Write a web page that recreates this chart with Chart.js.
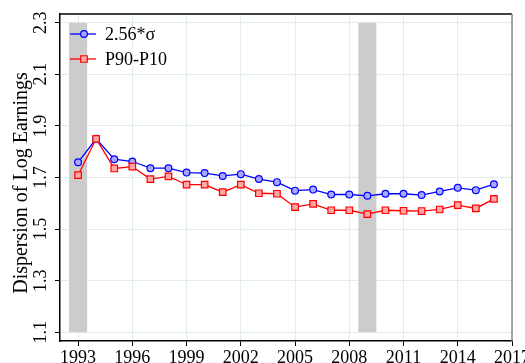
<!DOCTYPE html>
<html>
<head>
<meta charset="utf-8">
<script src="https://cdn.jsdelivr.net/npm/chart.js@4.4.0/dist/chart.umd.min.js"></script>
<style>
  html, body { margin: 0; padding: 0; background: #fff; }
  #wrap { width: 525px; height: 363px; }
</style>
</head>
<body>
<div id="wrap"><canvas id="chart"></canvas></div>
<script>
// ==================== DATA ====================
const years = [1993, 1994, 1995, 1996, 1997, 1998, 1999, 2000, 2001, 2002, 2003, 2004,
               2005, 2006, 2007, 2008, 2009, 2010, 2011, 2012, 2013, 2014, 2015, 2016];
const sigmaScaled = [1.759, 1.850, 1.771, 1.762, 1.736, 1.736, 1.719, 1.717, 1.706, 1.713, 1.694, 1.682,
                     1.649, 1.653, 1.634, 1.634, 1.629, 1.637, 1.637, 1.632, 1.646, 1.660, 1.651, 1.674];
const p90p10 = [1.709, 1.850, 1.735, 1.742, 1.694, 1.704, 1.672, 1.672, 1.643, 1.672, 1.639, 1.637,
                1.585, 1.598, 1.573, 1.573, 1.558, 1.573, 1.571, 1.570, 1.576, 1.593, 1.580, 1.617];
const xTicks = [1993, 1996, 1999, 2002, 2005, 2008, 2011, 2014, 2017];
const yTicks = [1.1, 1.3, 1.5, 1.7, 1.9, 2.1, 2.3];
const recessions = [[1992.5, 1993.5], [2008.5, 2009.5]];
const recessionSpan = [1.1, 2.3];
const yTitle = 'Dispersion of Log Earnings';

const SERIF = "'Liberation Serif', 'Times New Roman', serif";

// shaded recession bands, plot frame, rotated y labels and the inset legend
const decorations = {
  id: 'decorations',
  beforeDatasetsDraw(chart) {
    const { ctx, scales: { x, y } } = chart;
    ctx.save();
    ctx.fillStyle = '#cccccc';
    const top = y.getPixelForValue(recessionSpan[1]);
    const bottom = y.getPixelForValue(recessionSpan[0]);
    recessions.forEach(([from, to]) => {
      const x0 = x.getPixelForValue(from);
      const x1 = x.getPixelForValue(to);
      ctx.fillRect(x0, top, x1 - x0, bottom - top);
    });
    ctx.restore();
  },
  afterDraw(chart) {
    const { ctx, chartArea: area, scales: { y } } = chart;
    ctx.save();

    // top and right edges of the frame
    ctx.lineWidth = 1.5;
    ctx.strokeStyle = '#000';
    ctx.beginPath();
    ctx.moveTo(area.left, area.top);
    ctx.lineTo(area.right, area.top);
    ctx.stroke();
    ctx.strokeStyle = '#8a8a8a';
    ctx.beginPath();
    ctx.moveTo(area.right, area.top);
    ctx.lineTo(area.right, area.bottom);
    ctx.stroke();

    // vertical tick labels on the y axis
    ctx.fillStyle = '#000';
    ctx.font = `18px ${SERIF}`;
    ctx.textAlign = 'center';
    ctx.textBaseline = 'middle';
    yTicks.forEach(v => {
      ctx.save();
      ctx.translate(41, y.getPixelForValue(v));
      ctx.rotate(-Math.PI / 2);
      ctx.fillText(v.toFixed(1), 0, 0);
      ctx.restore();
    });

    // y axis title
    ctx.save();
    ctx.font = `20px ${SERIF}`;
    ctx.translate(22, 183);
    ctx.rotate(-Math.PI / 2);
    ctx.fillText(yTitle, 0, 0);
    ctx.restore();

    // legend in the upper-left corner of the plot
    const rows = [chart.data.datasets[0], chart.data.datasets[1]];
    rows.forEach((ds, i) => {
      const cy = 34 + i * 25;
      ctx.strokeStyle = ds.borderColor;
      ctx.lineWidth = ds.borderWidth;
      ctx.beginPath();
      ctx.moveTo(70, cy);
      ctx.lineTo(96, cy);
      ctx.stroke();
      ctx.fillStyle = ds.pointBackgroundColor;
      ctx.strokeStyle = ds.borderColor;
      ctx.lineWidth = ds.pointBorderWidth;
      Chart.helpers.drawPoint(ctx, {
        pointStyle: ds.pointStyle, radius: ds.pointRadius, rotation: 0, borderWidth: ds.pointBorderWidth
      }, 84, cy);
      ctx.fillStyle = '#000';
      ctx.textAlign = 'left';
      ctx.textBaseline = 'middle';
      ctx.fillText(ds.label, 105, cy + 1);
    });

    ctx.restore();
  }
};

const toPoints = values => values.map((v, i) => ({ x: years[i], y: v }));

new Chart(document.getElementById('chart'), {
  type: 'line',
  data: {
    datasets: [
      {
        label: '2.56*σ',
        data: toPoints(sigmaScaled),
        borderColor: '#0000ff',
        borderWidth: 1.3,
        pointStyle: 'circle',
        pointRadius: 3.4,
        pointBorderWidth: 1.2,
        pointBackgroundColor: '#a8a8ff',
        pointBorderColor: '#0000ff',
        order: 1
      },
      {
        label: 'P90-P10',
        data: toPoints(p90p10),
        borderColor: '#ff0000',
        borderWidth: 1.3,
        pointStyle: 'rect',
        pointRadius: 4.6,
        pointBorderWidth: 1.2,
        pointBackgroundColor: '#ffa8a8',
        pointBorderColor: '#ff0000',
        order: 0
      }
    ]
  },
  options: {
    responsive: true,
    maintainAspectRatio: false,
    animation: false,
    devicePixelRatio: 1,
    layout: { padding: { left: 0, right: 13, top: 14, bottom: 0 } },
    plugins: {
      legend: { display: false },
      tooltip: { enabled: false }
    },
    scales: {
      x: {
        type: 'linear',
        min: 1992,
        max: 2017,
        afterBuildTicks: s => { s.ticks = xTicks.map(v => ({ value: v })); },
        afterFit: s => { s.height = 22; s.paddingLeft = 0; s.paddingRight = 0; },
        grid: { color: '#e4eded', lineWidth: 1, tickColor: '#000', tickLength: 5 },
        border: { color: '#000', width: 1.5 },
        ticks: {
          color: '#000',
          font: { family: SERIF, size: 18 },
          padding: 1,
          maxRotation: 0,
          autoSkip: false,
          callback: v => String(v)
        }
      },
      y: {
        min: 1.066,
        max: 2.334,
        afterBuildTicks: s => { s.ticks = yTicks.map(v => ({ value: v })); },
        afterFit: s => { s.width = 60; },
        grid: { color: '#e4eded', lineWidth: 1, tickColor: '#000', tickLength: 5 },
        border: { color: '#000', width: 1.5 },
        ticks: { display: false }
      }
    }
  },
  plugins: [decorations]
});
</script>
</body>
</html>
